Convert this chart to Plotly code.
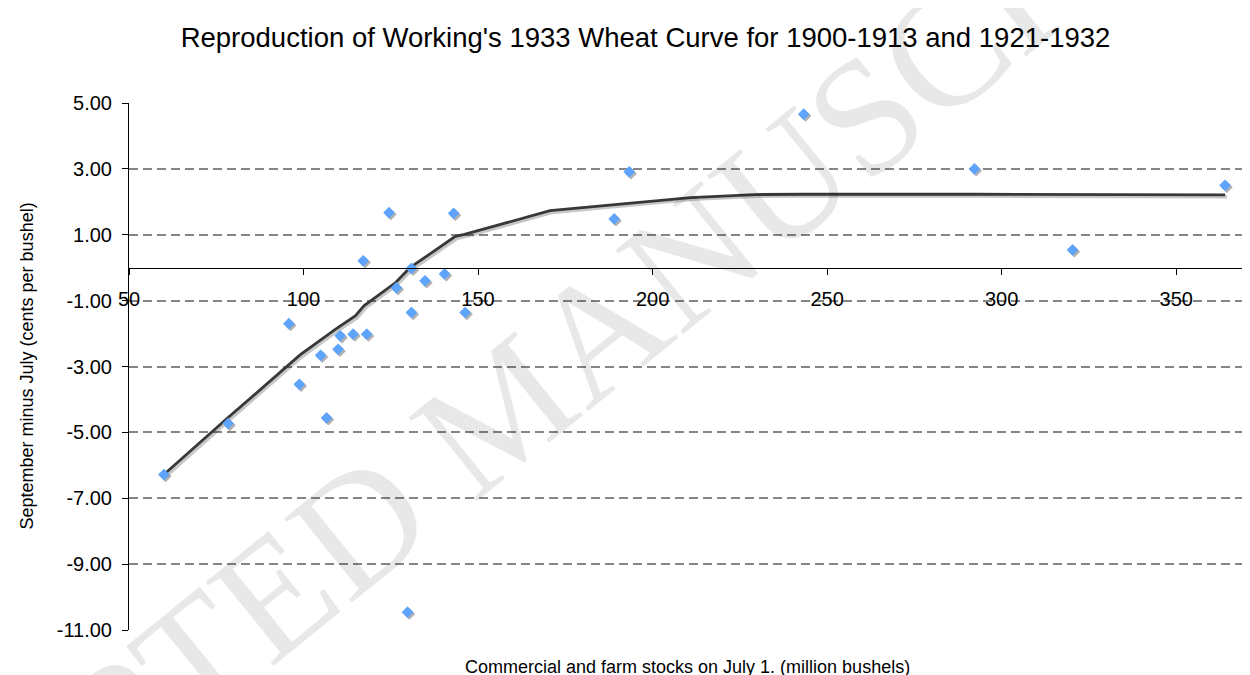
import plotly.graph_objects as go

# Observed data (stocks on July 1, million bushels; Sept minus July, cents/bushel)
stocks = [60.0, 78.4, 95.8, 98.8, 104.9, 106.6, 109.9, 110.5, 114.2, 117.1,
          118.1, 124.5, 126.6, 129.8, 130.9, 130.9, 134.8, 140.4, 143.0, 146.3,
          189.0, 193.3, 243.3, 292.2, 320.3, 364.0]
spread = [-6.28, -4.73, -1.70, -3.54, -2.66, -4.56, -2.48, -2.07, -2.02, 0.21,
          -2.02, 1.67, -0.61, -10.46, -0.02, -1.36, -0.40, -0.19, 1.65, -1.36,
          1.48, 2.91, 4.66, 3.00, 0.54, 2.50]

# Working's curve
curve_x = [60.0, 78.4, 99.0, 109.0, 114.9, 117.3, 126.4, 130.5, 143.5, 146.1,
           170.6, 210.9, 229.2, 243.6, 292.2, 320.3, 364.0]
curve_y = [-6.28, -4.55, -2.65, -1.88, -1.46, -1.16, -0.45, 0.0, 0.95, 1.01,
           1.73, 2.13, 2.22, 2.23, 2.23, 2.22, 2.21]

# Axis ticks
x_ticks = [50, 100, 150, 200, 250, 300, 350]
y_ticks = [-11, -9, -7, -5, -3, -1, 1, 3, 5]
y_ticktext = ["-11.00", "-9.00", "-7.00", "-5.00", "-3.00", "-1.00", "1.00", "3.00", "5.00"]

title = "Reproduction of Working's 1933 Wheat Curve for 1900-1913 and 1921-1932"
x_title = "Commercial and farm stocks on July 1. (million bushels)"
y_title = "September minus July (cents per bushel)"
watermark = "ACCEPTED MANUSCRIPT"

X_RANGE = [50, 370]
Y_RANGE = [-11, 5]
W, H = 1250, 675
ML, MR, MT, MB = 121, 12, 95, 53
pw = W - ML - MR
ph = H - MT - MB
# shadow offset (px) expressed in data units
sx = 1.8 * (X_RANGE[1] - X_RANGE[0]) / pw
sy = 1.8 * (Y_RANGE[1] - Y_RANGE[0]) / ph

FONT = "Liberation Sans, Arial, sans-serif"

fig = go.Figure()
# shadows (base axes, shifted)
fig.add_trace(go.Scatter(x=curve_x, y=curve_y, mode="lines",
                         line=dict(color="rgba(0,0,0,0.22)", width=3.5),
                         xaxis="x", yaxis="y", hoverinfo="skip", showlegend=False))
fig.add_trace(go.Scatter(x=stocks, y=spread, mode="markers",
                         marker=dict(symbol="diamond", size=9, color="rgba(100,100,100,0.5)",
                                     line=dict(width=0)),
                         xaxis="x", yaxis="y", hoverinfo="skip", showlegend=False))
# main traces
fig.add_trace(go.Scatter(x=curve_x, y=curve_y, mode="lines",
                         line=dict(color="#383838", width=2.8),
                         xaxis="x2", yaxis="y2", showlegend=False))
fig.add_trace(go.Scatter(x=stocks, y=spread, mode="markers",
                         marker=dict(symbol="diamond", size=9, color="#5EA4FC",
                                     line=dict(width=0)),
                         xaxis="x2", yaxis="y2", showlegend=False))

fig.update_layout(
    width=W, height=H,
    margin=dict(l=ML, r=MR, t=MT, b=MB),
    paper_bgcolor="white", plot_bgcolor="white",
    font=dict(family=FONT, size=20, color="black"),
    title=dict(text=title, x=0.51, xref="container", xanchor="center",
               y=1 - 29 / H, yref="container", yanchor="middle",
               font=dict(family=FONT, size=27.5, color="black")),
    xaxis=dict(range=[X_RANGE[0] - sx, X_RANGE[1] - sx], visible=False),
    yaxis=dict(range=[Y_RANGE[0] + sy, Y_RANGE[1] + sy], visible=False),
    xaxis2=dict(range=X_RANGE, overlaying="x", anchor="free", position=11 / 16,
                tickvals=x_ticks, showgrid=False, zeroline=False,
                showline=True, linecolor="black", linewidth=1,
                ticks="outside", ticklen=6, tickcolor="black", tickwidth=1,
                ticklabelstandoff=7, tickfont=dict(size=20)),
    yaxis2=dict(range=Y_RANGE, overlaying="y", anchor="x2", side="left",
                tickvals=y_ticks, ticktext=y_ticktext, zeroline=False,
                showgrid=True, gridcolor="#858585", gridwidth=1.6, griddash="9px,5px",
                showline=True, linecolor="black", linewidth=1,
                ticks="outside", ticklen=6, tickcolor="black", tickwidth=1,
                ticklabelstandoff=6, tickfont=dict(size=20)),
    annotations=[
        dict(text=x_title, xref="paper", yref="paper", x=0.5, y=-(659 - (H - MB)) / ph,
             xanchor="center", yanchor="middle", showarrow=False,
             font=dict(family=FONT, size=18, color="black")),
        dict(text=y_title, xref="paper", yref="paper", x=(18 - ML) / pw, y=0.5,
             xanchor="center", yanchor="middle", showarrow=False, textangle=-90,
             font=dict(family=FONT, size=18, color="black")),
        dict(text=watermark, xref="paper", yref="paper",
             x=(495 - ML) / pw, y=((H - MB) - 400) / ph,
             xanchor="center", yanchor="middle", showarrow=False, textangle=-39,
             font=dict(family="Liberation Serif, serif", size=165, color="rgba(0,0,0,0.09)")),
    ],
)

fig.write_html("out.html")
